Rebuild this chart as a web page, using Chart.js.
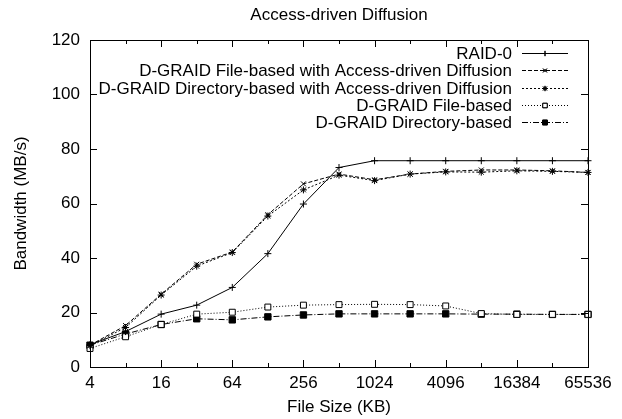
<!DOCTYPE html>
<html>
<head>
<meta charset="utf-8">
<script src="https://cdn.jsdelivr.net/npm/chart.js@4/dist/chart.umd.min.js"></script>
<style>
  html, body { margin: 0; padding: 0; background: #fff; }
  #wrap { width: 622px; height: 419px; }
</style>
</head>
<body>
<div id="wrap"><canvas id="chart" width="622" height="419"></canvas></div>
<script>
// File sizes (KB) on a log2 axis
const fileSizes = [4, 8, 16, 32, 64, 128, 256, 512, 1024, 2048, 4096, 8192, 16384, 32768, 65536];
const yTicks = [0, 20, 40, 60, 80, 100, 120];

const raid0 = [8.2, 13.0, 19.4, 22.7, 29.2, 41.6, 59.8, 73.2, 75.7, 75.7, 75.7, 75.7, 75.7, 75.7, 75.7];
const fileDiffusion = [8.0, 15.2, 26.7, 37.7, 42.2, 55.9, 67.2, 70.8, 68.7, 70.8, 71.8, 72.3, 72.3, 72.0, 71.4];
const dirDiffusion = [7.8, 14.5, 26.4, 37.0, 42.0, 55.4, 65.0, 70.4, 68.4, 70.8, 71.6, 71.5, 72.0, 71.8, 71.4];
const fileBased = [6.8, 11.1, 15.6, 19.4, 20.1, 22.0, 22.7, 22.9, 23.0, 22.9, 22.4, 19.6, 19.3, 19.3, 19.3];
const dirBased = [8.0, 12.1, 15.6, 17.7, 17.3, 18.4, 19.1, 19.5, 19.5, 19.5, 19.5, 19.4, 19.4, 19.3, 19.3];

const FONT = 'Liberation Sans, Arial, Helvetica, sans-serif';
const FS = 17;

function series(label, data, style, dash, radius, bg) {
  return {
    label: label,
    data: data,
    borderColor: '#000',
    borderWidth: 1,
    borderDash: dash,
    pointStyle: style,
    pointRadius: radius,
    pointBorderColor: '#000',
    pointBorderWidth: 1,
    pointBackgroundColor: bg,
    tension: 0,
    fill: false,
  };
}

// gnuplot-like frame, inward ticks, title and legend
const gnuplotLook = {
  id: 'gnuplotLook',
  afterDraw(chart) {
    const ctx = chart.ctx;
    const area = chart.chartArea;
    const xs = chart.scales.x;
    const ys = chart.scales.y;
    ctx.save();
    ctx.strokeStyle = '#000';
    ctx.lineWidth = 1;
    ctx.setLineDash([]);
    ctx.strokeRect(area.left + 0.5, area.top + 0.5, area.right - area.left, area.bottom - area.top);

    ctx.beginPath();
    fileSizes.forEach((v, i) => {
      const px = Math.round(xs.getPixelForValue(i)) + 0.5;
      const len = i % 2 === 0 ? 7 : 4;
      ctx.moveTo(px, area.bottom);
      ctx.lineTo(px, area.bottom - len);
      ctx.moveTo(px, area.top);
      ctx.lineTo(px, area.top + len);
    });
    yTicks.forEach(v => {
      const py = Math.round(ys.getPixelForValue(v)) + 0.5;
      ctx.moveTo(area.left, py);
      ctx.lineTo(area.left + 7, py);
      ctx.moveTo(area.right, py);
      ctx.lineTo(area.right - 7, py);
    });
    ctx.stroke();

    // title
    ctx.fillStyle = '#000';
    ctx.font = FS + 'px ' + FONT;
    ctx.textAlign = 'center';
    ctx.textBaseline = 'middle';
    ctx.fillText('Access-driven Diffusion', (area.left + area.right) / 2, 15);

    // legend
    const textRight = 512, lineL = 522, lineR = 568, rowY0 = 53, rowH = 17.3;
    chart.data.datasets.forEach((ds, i) => {
      const y = Math.round(rowY0 + i * rowH);
      ctx.textAlign = 'right';
      ctx.fillStyle = '#000';
      ctx.fillText(ds.label, textRight, y + 1);
      ctx.beginPath();
      ctx.setLineDash(ds.borderDash || []);
      ctx.moveTo(lineL, y + 0.5);
      ctx.lineTo(lineR, y + 0.5);
      ctx.stroke();
      ctx.setLineDash([]);
      Chart.helpers.drawPoint(ctx, {
        pointStyle: ds.pointStyle,
        radius: ds.pointRadius * 0.75,
        borderWidth: 1,
      }, (lineL + lineR) / 2, y + 0.5);
      if (ds.pointBackgroundColor !== 'transparent') {
        ctx.fillStyle = ds.pointBackgroundColor;
        ctx.fill();
      }
      ctx.stroke();
    });
    ctx.restore();
  }
};

new Chart(document.getElementById('chart'), {
  type: 'line',
  data: {
    labels: fileSizes.map(String),
    datasets: [
      series('RAID-0', raid0, 'cross', [], 3.5, 'transparent'),
      series('D-GRAID File-based with Access-driven Diffusion', fileDiffusion, 'crossRot', [4, 2], 3.5, 'transparent'),
      series('D-GRAID Directory-based with Access-driven Diffusion', dirDiffusion, 'star', [2, 2], 3.5, 'transparent'),
      series('D-GRAID File-based', fileBased, 'rect', [1, 2], 4.2, '#fff'),
      series('D-GRAID Directory-based', dirBased, 'rect', [6, 2, 1, 2], 4.5, '#000'),
    ],
  },
  options: {
    responsive: false,
    animation: false,
    devicePixelRatio: 1,
    layout: { padding: { top: 40, right: 34, left: 0, bottom: 0 } },
    plugins: {
      legend: { display: false },
      title: { display: false },
      tooltip: { enabled: false },
    },
    scales: {
      x: {
        type: 'category',
        offset: false,
        grid: { display: false, drawTicks: false },
        border: { display: false },
        ticks: {
          color: '#000',
          font: { family: FONT, size: FS },
          padding: 6,
          autoSkip: false,
          maxRotation: 0,
          callback: function (v, i) { return i % 2 === 0 ? fileSizes[i] : ''; },
        },
        title: {
          display: true,
          text: 'File Size (KB)',
          color: '#000',
          font: { family: FONT, size: FS },
          padding: { top: 2, bottom: 1 },
        },
        afterFit(scale) { scale.height = 52; },
      },
      y: {
        min: 0,
        max: 120,
        grid: { display: false, drawTicks: false },
        border: { display: false },
        ticks: {
          stepSize: 20,
          color: '#000',
          font: { family: FONT, size: FS },
          padding: 10,
        },
        title: {
          display: true,
          text: 'Bandwidth (MB/s)',
          color: '#000',
          font: { family: FONT, size: FS },
          padding: { top: 11, bottom: 0 },
        },
        afterFit(scale) { scale.width = 90; },
      },
    },
  },
  plugins: [gnuplotLook],
});
</script>
</body>
</html>
